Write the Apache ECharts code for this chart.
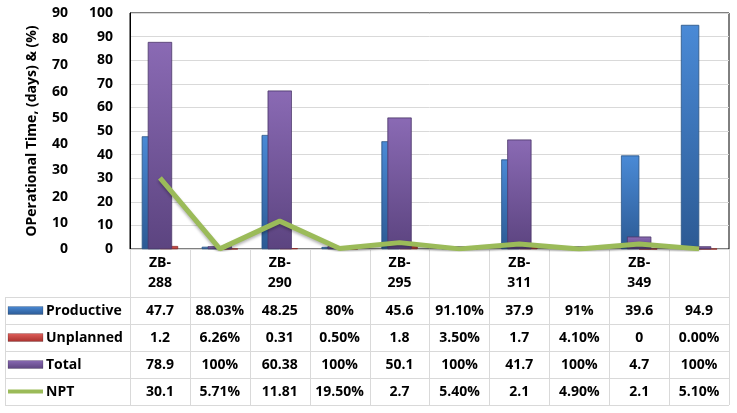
<!DOCTYPE html>
<html>
<head>
<meta charset="utf-8">
<script src="https://cdn.jsdelivr.net/npm/echarts@6/dist/echarts.min.js"></script>
<style>
  html, body { margin: 0; padding: 0; background: #fff; }
  #main { width: 737px; height: 413px; }
</style>
</head>
<body>
<div id="main"></div>
<script>
var myChart = echarts.init(document.getElementById('main'));

// values as shown in the data table under the chart
const categories = ['ZB-288', '', 'ZB-290', '', 'ZB-295', '', 'ZB-311', '', 'ZB-349', ''];
const productive = ['47.7', '88.03%', '48.25', '80%', '45.6', '91.10%', '37.9', '91%', '39.6', '94.9'];
const unplanned = ['1.2', '6.26%', '0.31', '0.50%', '1.8', '3.50%', '1.7', '4.10%', '0', '0.00%'];
const total = ['78.9', '100%', '60.38', '100%', '50.1', '100%', '41.7', '100%', '4.7', '100%'];
const npt = ['30.1', '5.71%', '11.81', '19.50%', '2.7', '5.40%', '2.1', '4.90%', '2.1', '5.10%'];
const seriesNames = ['Productive', 'Unplanned', 'Total', 'NPT'];

// "88.03%" is plotted as 0.8803
function toNum(s) {
  return s.endsWith('%') ? parseFloat(s) / 100 : parseFloat(s);
}

const FONT = '"Open Sans"';
const FS = 14;
const grad = function (top, bottom) {
  return new echarts.graphic.LinearGradient(0, 0, 0, 1, [
    { offset: 0, color: top },
    { offset: 1, color: bottom }
  ]);
};
const colBlue = grad('#4a8ad6', '#2c5a94');
const colRed = grad('#e0605c', '#a8302c');
const colPurple = grad('#8a6ab4', '#5c4480');
const colGreen = '#9bbb59';

const option = {
  animation: false,
  grid: {
    left: 130, right: 8, top: 13, bottom: 164,
    show: true, borderColor: '#000', borderWidth: 1
  },
  xAxis: [
    {
      type: 'category',
      data: categories,
      axisLine: { show: true, lineStyle: { color: '#d9d9d9' } },
      axisTick: { show: false },
      axisLabel: {
        interval: 0,
        margin: 4,
        fontFamily: FONT, fontWeight: 'bold', fontSize: FS, color: '#000',
        lineHeight: 20,
        formatter: function (v) { return v ? v.replace('-', '-\n') : ''; }
      }
    },
    {
      type: 'category',
      data: categories,
      show: false
    }
  ],
  yAxis: [
    {
      type: 'value', min: 0, max: 100, interval: 10,
      position: 'left',
      axisLine: { show: true, lineStyle: { color: '#000' } },
      axisTick: { show: false },
      splitLine: { lineStyle: { color: '#d9d9d9' } },
      axisLabel: { margin: 17, fontFamily: FONT, fontWeight: 'bold', fontSize: FS, color: '#000' }
    },
    {
      type: 'value', min: 0, max: 90, interval: 10,
      position: 'left', offset: 55,
      axisLine: { show: false },
      axisTick: { show: false },
      splitLine: { show: false },
      axisLabel: { margin: 7, fontFamily: FONT, fontWeight: 'bold', fontSize: FS, color: '#000' },
      name: 'OPerational Time, (days) & (%)',
      nameLocation: 'middle',
      nameRotate: 90,
      nameGap: 36,
      nameTextStyle: { fontFamily: FONT, fontWeight: 'bold', fontSize: 14, color: '#000' }
    }
  ],
  series: [
    {
      name: seriesNames[0], type: 'bar', xAxisIndex: 0, yAxisIndex: 0,
      barWidth: 18, barGap: '0%',
      data: productive.map(toNum),
      itemStyle: { color: colBlue, borderColor: '#2a5585', borderWidth: 0.5 }
    },
    {
      name: seriesNames[1], type: 'bar', xAxisIndex: 0, yAxisIndex: 0,
      barWidth: 18, barGap: '0%',
      data: unplanned.map(toNum),
      itemStyle: { color: colRed, borderColor: '#8c2a27', borderWidth: 0.5 }
    },
    {
      name: seriesNames[2], type: 'bar', xAxisIndex: 1, yAxisIndex: 1,
      barWidth: 24,
      data: total.map(toNum),
      itemStyle: { color: colPurple, borderColor: '#4e3a6c', borderWidth: 0.5 }
    },
    {
      name: seriesNames[3], type: 'line', xAxisIndex: 0, yAxisIndex: 0,
      data: npt.map(toNum),
      symbol: 'none',
      lineStyle: {
        color: colGreen, width: 5,
        shadowColor: 'rgba(0,0,0,0.3)', shadowBlur: 3, shadowOffsetY: 2
      },
      z: 5
    }
  ]
};

myChart.setOption(option);

// data table under the plot, placed from the axis scales
const rows = [productive, unplanned, total, npt];
const keyFill = [colBlue, colRed, colPurple, null];
const c0 = myChart.convertToPixel({ xAxisIndex: 0 }, 0);
const c1 = myChart.convertToPixel({ xAxisIndex: 0 }, 1);
const band = c1 - c0;
const y0 = myChart.convertToPixel({ yAxisIndex: 0 }, 0);
const headerH = 48, rowH = 27, tableLeft = 5;
const tableRight = c0 - band / 2 + band * categories.length;
const tableBottom = y0 + headerH + rowH * rows.length;
const lineStyle = { stroke: '#d9d9d9', lineWidth: 1 };
const els = [];

for (let i = 0; i <= categories.length; i++) {
  const x = Math.round(c0 - band / 2 + band * i) + 0.5;
  els.push({ type: 'line', shape: { x1: x, y1: y0, x2: x, y2: tableBottom }, style: lineStyle, silent: true });
}
els.push({ type: 'line', shape: { x1: tableLeft + 0.5, y1: y0 + headerH, x2: tableLeft + 0.5, y2: tableBottom }, style: lineStyle });
for (let r = 0; r <= rows.length; r++) {
  const y = Math.round(y0 + headerH + rowH * r) + 0.5;
  els.push({ type: 'line', shape: { x1: tableLeft, y1: y, x2: tableRight, y2: y }, style: lineStyle });
}

rows.forEach(function (row, r) {
  const cy = y0 + headerH + rowH * r + rowH / 2;
  if (keyFill[r]) {
    els.push({ type: 'rect', shape: { x: 8, y: cy - 4, width: 35, height: 8 },
      style: { fill: keyFill[r], stroke: 'rgba(0,0,0,0.35)', lineWidth: 0.5 } });
  } else {
    els.push({ type: 'line', shape: { x1: 8, y1: cy, x2: 43, y2: cy },
      style: { stroke: colGreen, lineWidth: 4 } });
  }
  els.push({ type: 'text', style: {
    text: seriesNames[r], x: 46, y: cy + 1, align: 'left', verticalAlign: 'middle',
    font: 'bold ' + FS + 'px ' + FONT, fill: '#000' } });
  row.forEach(function (v, i) {
    els.push({ type: 'text', style: {
      text: v, x: c0 + band * i, y: cy + 1, align: 'center', verticalAlign: 'middle',
      font: 'bold ' + FS + 'px ' + FONT, fill: '#000' } });
  });
});

myChart.setOption({ graphic: { elements: els } });
</script>
</body>
</html>
